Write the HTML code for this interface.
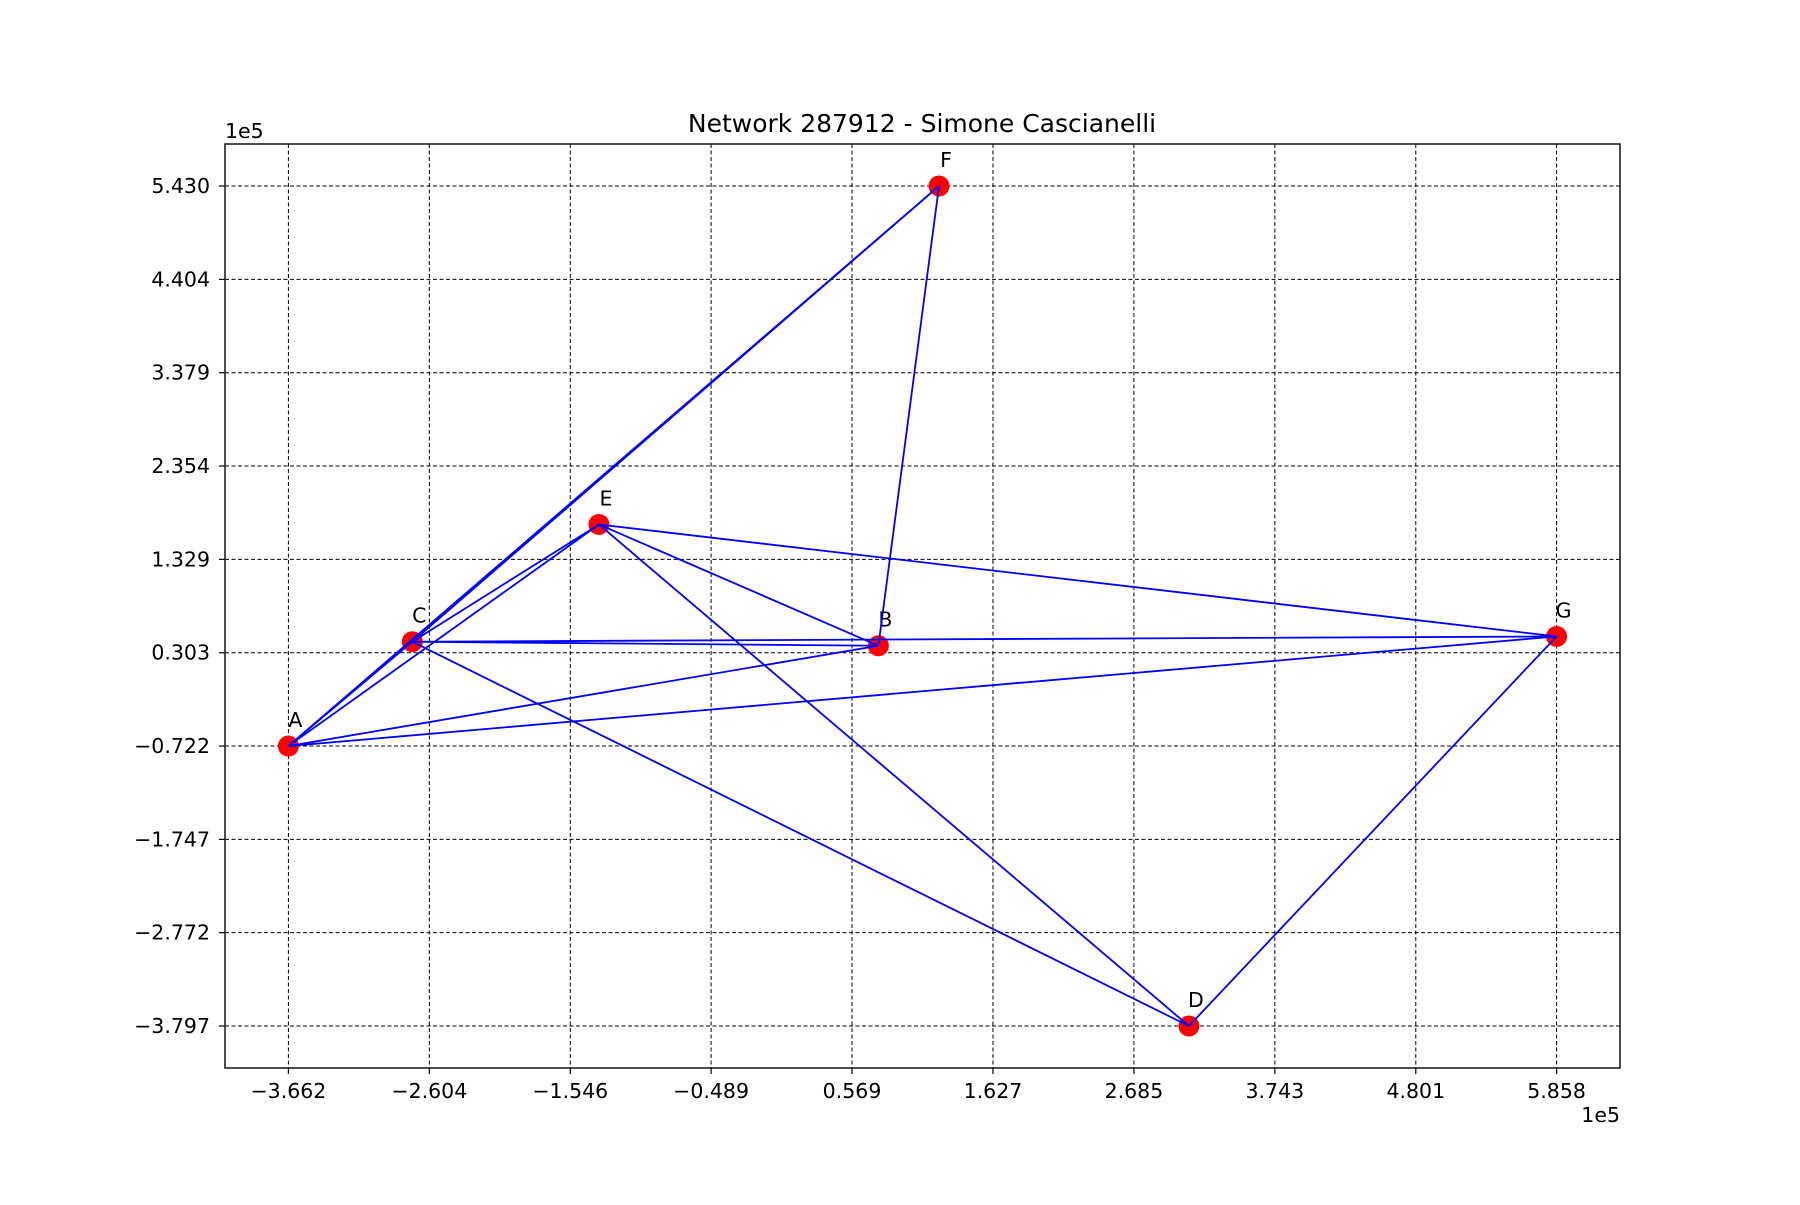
<!DOCTYPE html>
<html><head><meta charset="utf-8"><style>
html,body{margin:0;padding:0;background:#fff}
svg text{font-family:"DejaVu Sans","Liberation Sans",sans-serif;fill:#000}
</style></head><body>
<svg id="chart" width="1800" height="1200" xmlns="http://www.w3.org/2000/svg">
<rect width="1800" height="1200" fill="#fff"/>
<g id="grid"></g>
<g id="edges"></g>
<g id="nodes"></g>
<g id="axes"></g>
<text x="922" y="132" font-size="25" text-anchor="middle">Network 287912 - Simone Cascianelli</text>
<text x="1620" y="1122" font-size="20.5" text-anchor="end">1e5</text>
<text x="225" y="138" font-size="20.5">1e5</text>
</svg>
<script>
const nodeNames = ["A","B","C","D","E","F","G"];
const nodeX = [-3.662, 0.767, -2.732, 3.098, -1.331, 1.222, 5.858];
const nodeY = [-0.722, 0.380, 0.424, -3.797, 1.712, 5.430, 0.482];
const edgeList = [["A","F"],["C","F"],["A","E"],["C","E"],["A","B"],["A","G"],["C","B"],["C","G"],["E","B"],["E","G"],["E","D"],["C","D"],["B","F"],["G","D"],["A","C"]];
const xTicks = [-3.662,-2.604,-1.546,-0.489,0.569,1.627,2.685,3.743,4.801,5.858];
const yTicks = [-3.797,-2.772,-1.747,-0.722,0.303,1.329,2.354,3.379,4.404,5.430];

const NS="http://www.w3.org/2000/svg";
const L=225,R=1620,T=144,B=1068;
const xmin=Math.min(...nodeX),xmax=Math.max(...nodeX),ymin=Math.min(...nodeY),ymax=Math.max(...nodeY);
const xm=(xmax-xmin)*0.05,ym=(ymax-ymin)*0.05;
const X=v=>L+(v-(xmin-xm))/((xmax+xm)-(xmin-xm))*(R-L);
const Y=v=>B-(v-(ymin-ym))/((ymax+ym)-(ymin-ym))*(B-T);
function mk(tag,attrs,parent){const e=document.createElementNS(NS,tag);for(const k in attrs)e.setAttribute(k,attrs[k]);parent.appendChild(e);return e;}
const grid=document.getElementById('grid'),axes=document.getElementById('axes'),edges=document.getElementById('edges'),nodes=document.getElementById('nodes');
xTicks.forEach(t=>{const x=X(t);
 const g=mk('line',{x1:x,x2:x,y1:T,y2:B,stroke:'#000','stroke-width':1,'stroke-dasharray':'4,2.5'},grid);
 
 
 const tk=mk('line',{x1:x,x2:x,y1:B,y2:B+6,stroke:'#000','stroke-width':1.2},axes);
 
 
 const tx=mk('text',{x:x,y:B+30,'font-size':20.5,'text-anchor':'middle'},axes);
 tx.textContent=(t<0?'\u2212':'')+Math.abs(t).toFixed(3);
 
 
});
yTicks.forEach(t=>{const y=Y(t);
 const g=mk('line',{x1:L,x2:R,y1:y,y2:y,stroke:'#000','stroke-width':1,'stroke-dasharray':'4,2.5'},grid);
 
 
 const tk=mk('line',{x1:L-6,x2:L,y1:y,y2:y,stroke:'#000','stroke-width':1.2},axes);
 
 
 const tx=mk('text',{x:L-15,y:y+7,'font-size':20.5,'text-anchor':'end'},axes);
 tx.textContent=(t<0?'\u2212':'')+Math.abs(t).toFixed(3);
 
 
});
const fr=mk('rect',{x:L,y:T,width:R-L,height:B-T,fill:'none',stroke:'#222','stroke-width':1.6},axes);


nodeNames.forEach((n,i)=>{
 const c=mk('circle',{cx:X(nodeX[i]),cy:Y(nodeY[i]),r:10.5,fill:'#ff0000'},nodes);
 
 
 const t=mk('text',{x:X(nodeX[i])+7,y:Y(nodeY[i])-19,'font-size':20.5,'text-anchor':'middle'},nodes);
 t.textContent=n;
 
 
});
edgeList.forEach(([a,b])=>{const i=nodeNames.indexOf(a),j=nodeNames.indexOf(b);
 const e=mk('line',{x1:X(nodeX[i]),y1:Y(nodeY[i]),x2:X(nodeX[j]),y2:Y(nodeY[j]),stroke:'#0000ff','stroke-width':1.8},edges);
 
 
});
document.getElementById('chart').appendChild(edges);
</script>
</body></html>
